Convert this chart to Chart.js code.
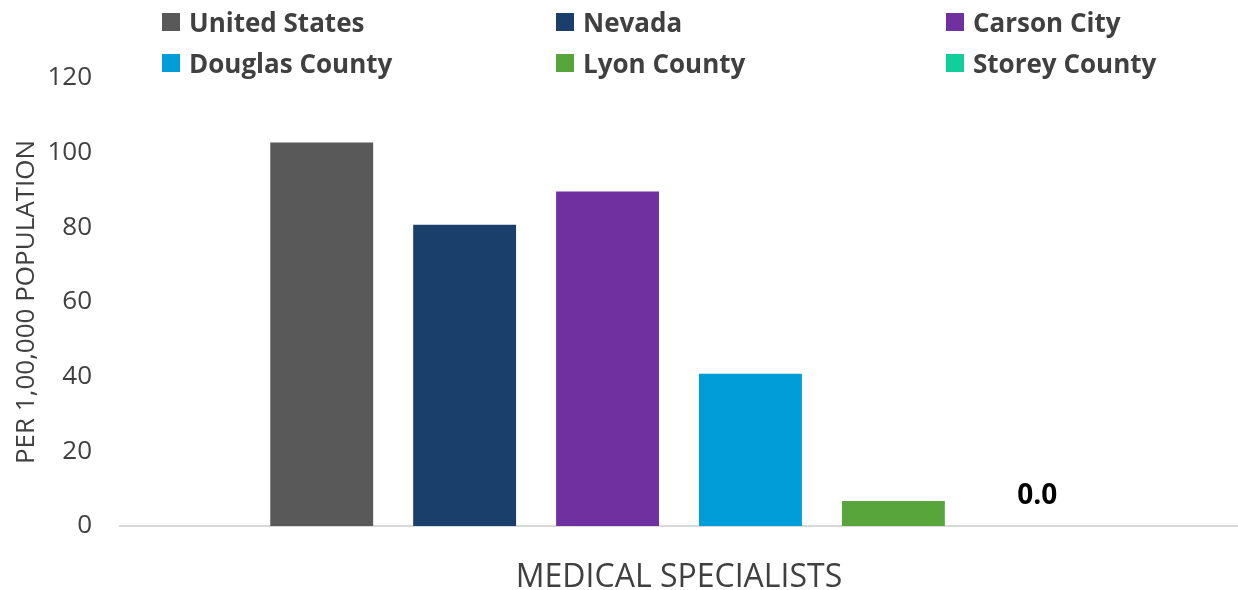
<!DOCTYPE html>
<html>
<head>
<meta charset="utf-8">
<script src="https://cdn.jsdelivr.net/npm/chart.js@4.4.1/dist/chart.umd.min.js"></script>
<style>
  body { margin: 0; background: #fff; }
  #wrap { position: relative; width: 1238px; height: 590px; }
  #legend { position: absolute; left: 0; top: 0; width: 1238px; height: 90px; font-family: "Open Sans", sans-serif; font-weight: bold; font-size: 26px; color: #404040; }
  .item { position: absolute; display: flex; align-items: center; white-space: nowrap; }
  .box { width: 18px; height: 18px; margin-right: 9px; }
</style>
</head>
<body>
<div id="wrap">
  <canvas id="myChart" width="1238" height="590"></canvas>
  <div id="legend"></div>
</div>
<script>
var categories = ['MEDICAL SPECIALISTS'];
var seriesNames = ['United States', 'Nevada', 'Carson City', 'Douglas County', 'Lyon County', 'Storey County'];
var seriesValues = [102.7, 80.7, 89.6, 40.8, 6.7, 0.0];
var seriesColors = ['#595959', '#1a3f6a', '#7030a0', '#009dd9', '#57a53b', '#10cf9b'];
var yTicks = [0, 20, 40, 60, 80, 100, 120];

// legend in three columns, like the original
var legendCols = [162, 556, 946];
var legendRows = [22, 63];
var legend = document.getElementById('legend');
seriesNames.forEach(function (name, i) {
  var el = document.createElement('div');
  el.className = 'item';
  el.style.left = legendCols[i % 3] + 'px';
  el.style.top = (legendRows[Math.floor(i / 3)] - 18) + 'px';
  el.style.height = '36px';
  el.innerHTML = '<span class="box" style="background:' + seriesColors[i] + '"></span>' + name;
  legend.appendChild(el);
});

// "0.0" label above the Storey County bar
var zeroLabel = {
  id: 'zeroLabel',
  afterDatasetsDraw: function (chart) {
    var ctx = chart.ctx;
    var last = seriesValues.length - 1;
    var bar = chart.getDatasetMeta(last).data[0];
    ctx.save();
    ctx.font = 'bold 28px "Open Sans"';
    ctx.fillStyle = '#000';
    ctx.textAlign = 'center';
    ctx.textBaseline = 'middle';
    ctx.fillText(seriesValues[last].toFixed(1), bar.x + 1, bar.y - 30);
    ctx.restore();
  }
};

var ctx = document.getElementById('myChart').getContext('2d');
var chart = new Chart(ctx, {
  type: 'bar',
  data: {
    labels: categories,
    datasets: seriesNames.map(function (name, i) {
      return {
        label: name,
        data: [seriesValues[i]],
        backgroundColor: seriesColors[i],
        borderWidth: 0,
        categoryPercentage: 0.767,
        barPercentage: 0.72
      };
    })
  },
  options: {
    responsive: false,
    animation: false,
    layout: { padding: { top: 78, right: 0, bottom: 0, left: 0 } },
    plugins: {
      legend: { display: false },
      tooltip: { enabled: false }
    },
    scales: {
      x: {
        grid: { display: false, drawTicks: false },
        border: { color: '#d9d9d9', width: 2 },
        ticks: { color: '#404040', padding: 33, font: { family: 'Open Sans', size: 32 } },
        afterFit: function (scale) { scale.height = 64; }
      },
      y: {
        min: 0,
        max: 120,
        afterBuildTicks: function (scale) { scale.ticks = yTicks.map(function (v) { return { value: v }; }); },
        grid: { display: false, drawTicks: false },
        border: { display: false },
        ticks: { color: '#404040', padding: 28, font: { family: 'Open Sans', size: 26 } },
        title: {
          display: true,
          text: 'PER 1,00,000 POPULATION',
          color: '#404040',
          padding: { top: 11, bottom: 0 },
          font: { family: 'Open Sans', size: 26 }
        },
        afterFit: function (scale) { scale.width = 120; }
      }
    }
  },
  plugins: [zeroLabel]
});
</script>
</body>
</html>
